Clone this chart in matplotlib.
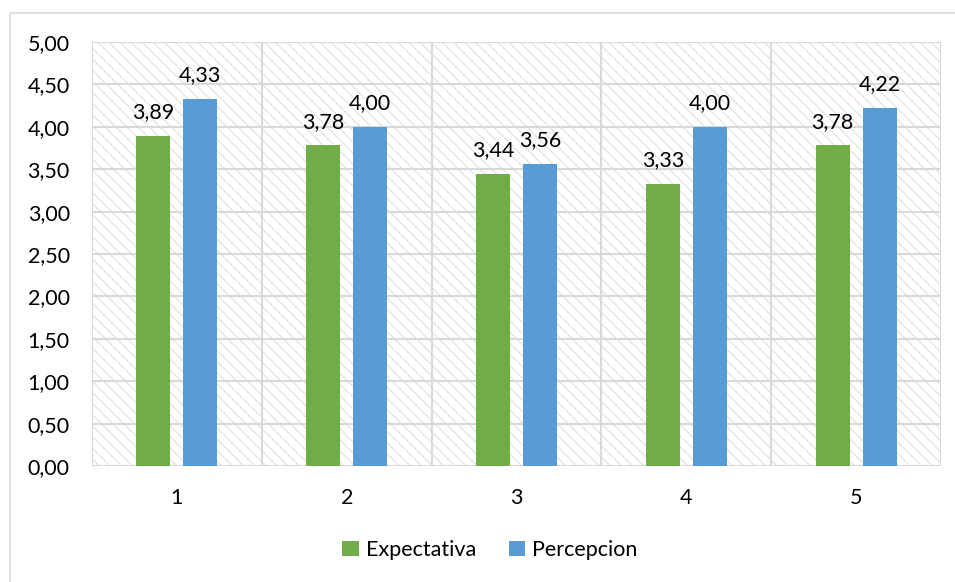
import numpy as np
import matplotlib.pyplot as plt
from matplotlib.patches import Rectangle

categories = ["1", "2", "3", "4", "5"]
expectativa = [3.89, 3.78, 3.44, 3.33, 3.78]
percepcion = [4.33, 4.00, 3.56, 4.00, 4.22]
yticks = [0.0, 0.5, 1.0, 1.5, 2.0, 2.5, 3.0, 3.5, 4.0, 4.5, 5.0]

green = "#70ad47"
blue = "#5b9bd5"
grid = "#d9d9d9"

plt.rcParams['font.family'] = ['Lato', 'DejaVu Sans']
plt.rcParams['hatch.color'] = "#e0e0e0"
plt.rcParams['hatch.linewidth'] = 0.8

fig = plt.figure(figsize=(9.55, 5.82), dpi=100)
ax = fig.add_axes([92 / 955, 1 - 466 / 582, 849 / 955, 424 / 582])

# chart area frame
fig.patches.append(Rectangle((10 / 955, -0.1), 1.2, 1 - 13 / 582 + 0.1,
                             transform=fig.transFigure, fill=False,
                             edgecolor=grid, linewidth=1.2))

# hatched plot area
ax.patch.set_facecolor("white")
ax.add_patch(Rectangle((0, 0), 1, 1, transform=ax.transAxes, fill=False,
                       hatch="\\\\\\", edgecolor="#e0e0e0", linewidth=0, zorder=0))

x = np.arange(len(categories))
w = 0.2
off = 0.138
b1 = ax.bar(x - off, expectativa, w, color=green, label="Expectativa", zorder=3)
b2 = ax.bar(x + off, percepcion, w, color=blue, label="Percepcion", zorder=3)

fs = 15.5
for bars, vals in ((b1, expectativa), (b2, percepcion)):
    for r, v in zip(bars, vals):
        ax.text(r.get_x() + r.get_width() / 2, v + 0.21, f"{v:.2f}".replace(".", ","),
                ha="center", va="baseline", fontsize=fs, color="#000000", zorder=4)

ax.set_xlim(-0.5, len(categories) - 0.5)
ax.set_ylim(0, 5)
ax.set_yticks(yticks)
ax.set_yticklabels([f"{t:.2f}".replace(".", ",") for t in yticks])
ax.set_xticks(x)
ax.set_xticklabels(categories)
ax.tick_params(length=0, labelsize=fs, colors="#000000")
ax.tick_params(axis="y", pad=16)
ax.tick_params(axis="x", pad=16)

# grid: horizontal at ticks, vertical at category boundaries
for t in yticks:
    ax.axhline(t, color=grid, linewidth=1.5, zorder=1)
for b in np.arange(-0.5, len(categories), 1.0):
    ax.axvline(b, color=grid, linewidth=1.5, zorder=1)
for s in ax.spines.values():
    s.set_visible(False)

fig.legend(handles=[b1, b2], loc="center", bbox_to_anchor=(490 / 955, 1 - 550 / 582),
           ncol=2, frameon=False, fontsize=fs, handlelength=0.75, handleheight=0.75,
           handletextpad=0.35, columnspacing=1.5)

fig.savefig("out.png", dpi=100)
